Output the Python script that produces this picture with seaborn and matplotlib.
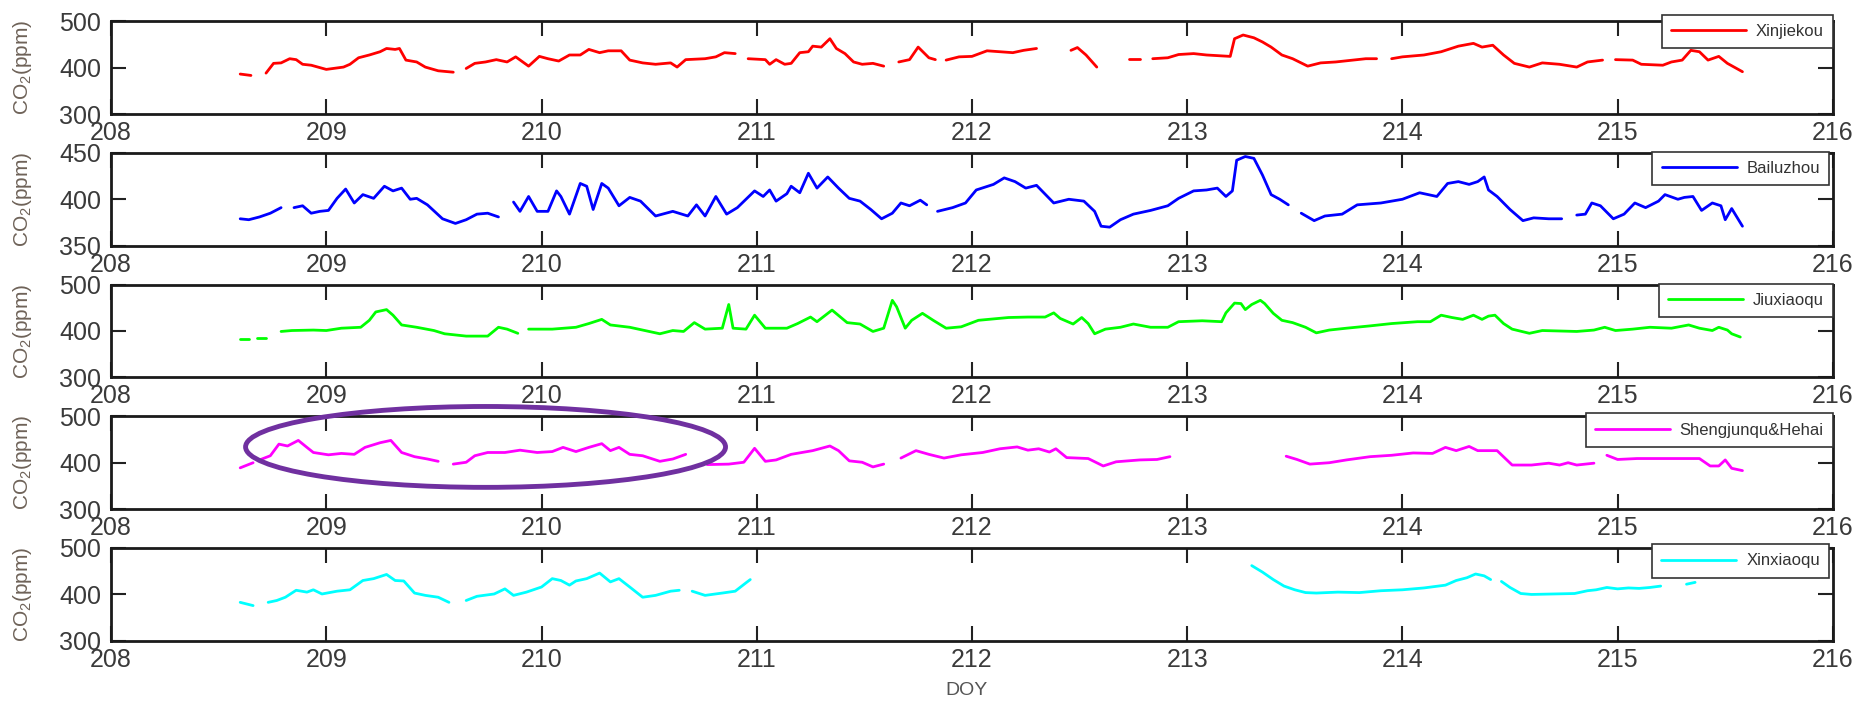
import numpy as np
import pandas as pd
import matplotlib
matplotlib.use("Agg")
import matplotlib.pyplot as plt
from matplotlib.lines import Line2D
from matplotlib.patches import Ellipse
import seaborn as sns

nan = np.nan

# CO2 (ppm) vs DOY; nan = gap in the record
xjk_doy = [208.60, 208.65, nan,
           208.72, 208.755, 208.79, 208.83, 208.86, 208.89, 208.93, 209.00, 209.08, 209.11, 209.15, 209.20, 209.25, 209.28, 209.32, 209.34, 209.37, 209.42, 209.46, 209.52, 209.59, nan,
           209.65, 209.69, 209.74, 209.79, 209.84, 209.88, 209.94, 209.99, 210.03, 210.08, 210.13, 210.18, 210.22, 210.27, 210.31, 210.37, 210.41, 210.47, 210.53, 210.60, 210.63, 210.67, 210.76, 210.81, 210.85, 210.90, nan,
           210.96, 211.04, 211.06, 211.09, 211.13, 211.16, 211.20, 211.24, 211.26, 211.30, 211.34, 211.37, 211.41, 211.45, 211.49, 211.54, 211.59, nan,
           211.66, 211.71, 211.75, 211.80, 211.83, nan,
           211.88, 211.94, 212.00, 212.07, 212.13, 212.19, 212.24, 212.30, nan,
           212.46, 212.49, 212.53, 212.58, nan,
           212.73, 212.78, nan,
           212.84, 212.91, 212.96, 213.03, 213.09, 213.20, 213.22, 213.26, 213.31, 213.35, 213.39, 213.44, 213.49, 213.56, 213.62, 213.69, 213.77, 213.83, 213.88, nan,
           213.95, 214.00, 214.10, 214.18, 214.26, 214.33, 214.37, 214.42, 214.47, 214.52, 214.59, 214.65, 214.73, 214.81, 214.86, 214.93, nan,
           214.99, 215.07, 215.11, 215.21, 215.25, 215.30, 215.34, 215.38, 215.42, 215.47, 215.51, 215.58]
xjk_co2 = [386, 383, nan,
           388, 409, 410, 419, 417, 407, 405, 396, 401, 407, 421, 427, 434, 441, 439, 441, 416, 412, 401, 393, 390, nan,
           398, 409, 412, 417, 412, 423, 403, 424, 419, 414, 427, 427, 439, 432, 436, 436, 416, 410, 407, 410, 401, 417, 419, 423, 432, 430, nan,
           419, 417, 407, 417, 407, 409, 432, 434, 446, 444, 462, 441, 430, 412, 407, 409, 403, nan,
           412, 417, 444, 421, 417, nan,
           416, 423, 424, 436, 434, 432, 437, 441, nan,
           437, 443, 427, 401, nan,
           418, 418, nan,
           419, 421, 428, 430, 427, 424, 462, 470, 464, 455, 444, 427, 419, 403, 410, 412, 416, 419, 419, nan,
           419, 423, 427, 434, 446, 452, 444, 448, 427, 409, 401, 410, 407, 401, 412, 416, nan,
           417, 416, 407, 405, 412, 416, 437, 434, 416, 424, 409, 391]

blz_doy = [208.60, 208.64, 208.69, 208.74, 208.79, nan,
           208.85, 208.89, 208.93, 208.97, 209.01, 209.05, 209.09, 209.13, 209.17, 209.22, 209.27, 209.31, 209.35, 209.39, 209.42, 209.47, 209.54, 209.60, 209.65, 209.70, 209.75, 209.80, nan,
           209.87, 209.90, 209.94, 209.98, 210.03, 210.07, 210.09, 210.13, 210.18, 210.21,
           210.24, 210.28, 210.31, 210.36, 210.41, 210.46, 210.53, 210.61, 210.68, 210.72,
           210.76, 210.81, 210.86, 210.91, 210.95, 210.99, 211.03, 211.06, 211.09, 211.14,
           211.16, 211.20, 211.24, 211.28, 211.33, 211.38, 211.43, 211.48, 211.53, 211.58,
           211.63, 211.67, 211.71, 211.76, 211.79, nan,
           211.84, 211.91, 211.97, 212.02, 212.10, 212.15, 212.20, 212.25, 212.30, 212.38,
           212.45, 212.52, 212.57, 212.60, 212.64, 212.69, 212.75, 212.83, 212.91, 212.96,
           213.03, 213.09, 213.14, 213.18, 213.21, 213.23, 213.27, 213.31, 213.35, 213.39,
           213.43, 213.47, nan,
           213.53, 213.59, 213.64, 213.72, 213.79, 213.90, 214.00, 214.08, 214.16, 214.21, 214.26, 214.31, 214.35, 214.38, 214.40, 214.44, 214.50, 214.56, 214.61, 214.68, 214.74, nan,
           214.81, 214.85, 214.88, 214.92, 214.98, 215.03, 215.08, 215.13, 215.19, 215.22, 215.28, 215.31, 215.35, 215.39, 215.44, 215.48, 215.50, 215.53, 215.58]
blz_co2 = [379, 378, 381, 385, 391, nan,
           391, 393, 385, 387, 388, 401, 411, 396, 405, 401, 414, 409, 412, 400, 401, 394, 379, 374, 378, 384, 385, 381, nan,
           397, 387, 403, 387, 387, 409, 403, 384, 417, 414,
           389, 417, 412, 393, 402, 398, 382, 387, 382, 394,
           382, 403, 384, 391, 400, 409, 403, 410, 398, 406,
           414, 407, 428, 412, 424, 412, 401, 398, 389, 379,
           385, 396, 393, 399, 394, nan,
           387, 391, 396, 410, 416, 423, 419, 412, 415, 396,
           400, 398, 387, 371, 370, 378, 384, 388, 393, 401,
           409, 410, 412, 403, 409, 442, 446, 444, 426, 405,
           400, 394, nan,
           385, 377, 382, 384, 394, 396, 400, 407, 403, 417, 419, 416, 419, 424, 410, 403, 389, 377, 380, 379, 379, nan,
           383, 384, 396, 393, 379, 384, 396, 391, 398, 405, 400, 402, 403, 388, 396, 393, 378, 390, 371]

jxq_doy = [208.60, 208.64, nan, 208.68, 208.72, nan,
           208.79, 208.84, 208.94, 209.00, 209.07, 209.16, 209.20, 209.23, 209.28, 209.31, 209.35, 209.42, 209.50, 209.55, 209.65, 209.75, 209.80, 209.84, 209.89, nan,
           209.94, 210.05, 210.16, 210.22, 210.28, 210.32, 210.41, 210.48, 210.55, 210.61,
           210.66, 210.71, 210.76, 210.84, 210.87, 210.89, 210.95, 210.99, 211.04, 211.14,
           211.19, 211.25, 211.28, 211.35, 211.42, 211.48, 211.54, 211.59, 211.63, 211.65,
           211.69, 211.72, 211.77, 211.82, 211.88, 211.95, 212.03, 212.17, 212.26, 212.34,
           212.38, 212.41, 212.47, 212.51, 212.54, 212.57, 212.62, 212.69, 212.75, 212.83,
           212.91, 212.96, 213.07, 213.16, 213.18, 213.22, 213.25, 213.27, 213.30, 213.34,
           213.36, 213.40, 213.44, 213.49, 213.55, 213.60, 213.66, 213.74, 213.85, 213.95,
           214.07, 214.13, 214.18, 214.23, 214.28, 214.33, 214.37, 214.40, 214.43, 214.47,
           214.51, 214.59, 214.65, 214.81, 214.89, 214.94, 214.99, 215.07, 215.15, 215.25,
           215.33, 215.38, 215.44, 215.47, 215.51, 215.53, 215.57]
jxq_co2 = [383, 383, nan, 384, 384, nan,
           399, 401, 402, 401, 406, 408, 423, 441, 446, 434, 413, 408, 401, 394, 389, 389, 408, 404, 395, nan,
           404, 404, 408, 416, 425, 413, 408, 401, 394, 401,
           399, 418, 404, 406, 457, 406, 404, 434, 406, 406,
           416, 430, 420, 445, 418, 415, 399, 406, 466, 452,
           406, 423, 438, 423, 406, 409, 423, 429, 430, 430,
           439, 427, 415, 429, 416, 394, 404, 408, 415, 408,
           408, 420, 422, 420, 439, 460, 459, 446, 457, 466,
           459, 438, 423, 418, 408, 396, 402, 406, 411, 416,
           420, 420, 434, 429, 425, 434, 425, 432, 434, 416,
           404, 395, 401, 399, 402, 408, 401, 404, 408, 406,
           413, 406, 401, 408, 402, 394, 387]

sjh_doy = [208.60, 208.66, nan,
           208.69, 208.74, 208.78, 208.82, 208.87, 208.91, 208.94, 209.01, 209.07, 209.13, 209.18, 209.25, 209.30, 209.35, 209.41, 209.47, 209.52, nan,
           209.59, 209.65, 209.69, 209.75, 209.83, 209.90, 209.98, 210.05, 210.10, 210.16, 210.22, 210.28, 210.32, 210.36, 210.41, 210.47, 210.55, 210.61, 210.67, nan,
           210.77, 210.87, 210.94, 210.99, 211.04, 211.09, 211.16, 211.26, 211.34, 211.38, 211.43, 211.49, 211.54, 211.59, nan,
           211.67, 211.74, 211.80, 211.87, 211.95, 212.05, 212.13, 212.21, 212.26, 212.31, 212.36, 212.39, 212.44, 212.54, 212.61, 212.67, 212.78, 212.86, 212.92, nan,
           213.46, 213.51, 213.57, 213.66, 213.74, 213.85, 213.95, 214.05, 214.14, 214.20, 214.25, 214.31, 214.35, 214.44, 214.51, 214.60, 214.68, 214.73, 214.77, 214.81, 214.89, nan,
           214.95, 215.00, 215.09, 215.20, 215.38, 215.43, 215.47, 215.50, 215.53, 215.58]
sjh_co2 = [389, 400, nan,
           406, 415, 440, 436, 448, 433, 422, 417, 420, 418, 433, 443, 448, 422, 413, 408, 403, nan,
           397, 401, 415, 422, 422, 427, 422, 424, 433, 424, 433, 441, 426, 433, 418, 415, 403, 408, 418, nan,
           396, 397, 401, 431, 403, 406, 418, 426, 436, 426, 404, 401, 391, 397, nan,
           410, 426, 418, 410, 417, 422, 430, 434, 427, 430, 423, 430, 411, 409, 393, 402, 406, 407, 413, nan,
           414, 407, 397, 400, 406, 413, 416, 421, 420, 433, 426, 435, 426, 426, 395, 395, 399, 395, 400, 395, 399, nan,
           416, 407, 409, 409, 409, 393, 393, 406, 388, 383]

xxq_doy = [208.60, 208.66, nan,
           208.73, 208.77, 208.81, 208.86, 208.91, 208.94, 208.98, 209.05, 209.11, 209.17, 209.22, 209.28, 209.32, 209.36, 209.41, 209.46, 209.52, 209.57, nan,
           209.65, 209.70, 209.78, 209.83, 209.87, 209.93, 210.00, 210.05, 210.09, 210.13, 210.16, 210.21, 210.27, 210.32, 210.36, 210.41, 210.47, 210.53, 210.60, 210.64, nan,
           210.70, 210.76, 210.84, 210.90, 210.95, 210.97, nan,
           213.30, 213.35, 213.40, 213.45, 213.50, 213.55, 213.60, 213.70, 213.80, 213.90, 214.00, 214.10, 214.20, 214.25, 214.30, 214.34, 214.38, 214.41, nan,
           214.46, 214.50, 214.55, 214.60, 214.70, 214.80, 214.86, 214.90, 214.95, 215.00, 215.05, 215.10, 215.15, 215.20, nan,
           215.32, 215.36]
xxq_co2 = [383, 376, nan,
           383, 387, 394, 409, 405, 410, 401, 407, 410, 430, 434, 443, 430, 429, 403, 398, 394, 383, nan,
           387, 396, 401, 412, 398, 405, 416, 434, 430, 420, 429, 434, 446, 427, 434, 416, 394, 398, 407, 409, nan,
           407, 398, 403, 407, 425, 432, nan,
           462, 448, 432, 418, 410, 404, 403, 405, 404, 408, 410, 414, 420, 430, 436, 444, 440, 432, nan,
           428, 415, 402, 400, 401, 402, 408, 410, 415, 412, 414, 413, 415, 418, nan,
           422, 426]

stations = ["Xinjiekou", "Bailuzhou", "Jiuxiaoqu", "Shengjunqu&Hehai", "Xinxiaoqu"]
series = [(xjk_doy, xjk_co2), (blz_doy, blz_co2), (jxq_doy, jxq_co2),
          (sjh_doy, sjh_co2), (xxq_doy, xxq_co2)]
colors = ["#ff0000", "#0000ff", "#00ff00", "#ff00ff", "#00ffff"]
ylims = [(300, 500), (350, 450), (300, 500), (300, 500), (300, 500)]
leg_anchor = [(1.0, 1.065), (0.998, 1.01), (1.0, 1.01), (1.0, 1.03), (0.998, 1.04)]

sns.set_theme(style="ticks")
plt.rcParams["font.family"] = ["Liberation Sans", "DejaVu Sans"]
plt.rcParams["mathtext.fontset"] = "custom"
plt.rcParams["mathtext.rm"] = "Liberation Sans"
plt.rcParams["mathtext.it"] = "Liberation Sans:italic"

fig, axes = plt.subplots(5, 1, figsize=(18.76, 7.02), dpi=100)
fig.subplots_adjust(left=0.0592, right=0.977, top=0.970, bottom=0.087, hspace=0.417)

for i, ax in enumerate(axes):
    doy, co2 = series[i]
    df = pd.DataFrame({"doy": doy, "co2": co2})
    df["seg"] = df["co2"].isna().cumsum()
    df = df.dropna()
    sns.lineplot(data=df, x="doy", y="co2", units="seg", estimator=None,
                 color=colors[i], lw=2.0, ax=ax, legend=False)

    ax.set_xlim(208, 216)
    ax.set_ylim(*ylims[i])
    ax.set_xticks(range(208, 217))
    lo, hi = ylims[i]
    ax.set_yticks([lo, (lo + hi) // 2, hi])
    ax.set_xlabel("")
    ax.set_ylabel("CO$_2$(ppm)", fontsize=15, color="#6e6258")
    ax.yaxis.set_label_coords(-0.045, 0.5)
    ax.tick_params(direction="in", top=True, right=True, length=11, width=1.5,
                   color="#222222", labelsize=18, labelcolor="#3a3a3a")
    ax.tick_params(axis="x", pad=5)
    ax.tick_params(axis="y", pad=7)
    for s in ax.spines.values():
        s.set_linewidth(2)
        s.set_color("#1a1a1a")

    h = Line2D([], [], color=colors[i], lw=2)
    leg = ax.legend([h], [stations[i]], loc="upper right", bbox_to_anchor=leg_anchor[i],
                    borderaxespad=0, fontsize=12, handlelength=4.5, handletextpad=0.6,
                    borderpad=0.55, fancybox=False, framealpha=1, edgecolor="#333333",
                    labelcolor="#333333")
    leg.get_frame().set_linewidth(1.2)

# purple highlight ring on the Shengjunqu&Hehai panel
ring = Ellipse((209.74, 434), width=2.23, height=174, fill=False,
               edgecolor="#7030a0", lw=3.5, clip_on=False, zorder=5)
axes[3].add_patch(ring)

fig.text(0.515, 0.016, "DOY", ha="center", va="center", fontsize=14, color="#555555")

fig.savefig("out.png", dpi=100)
